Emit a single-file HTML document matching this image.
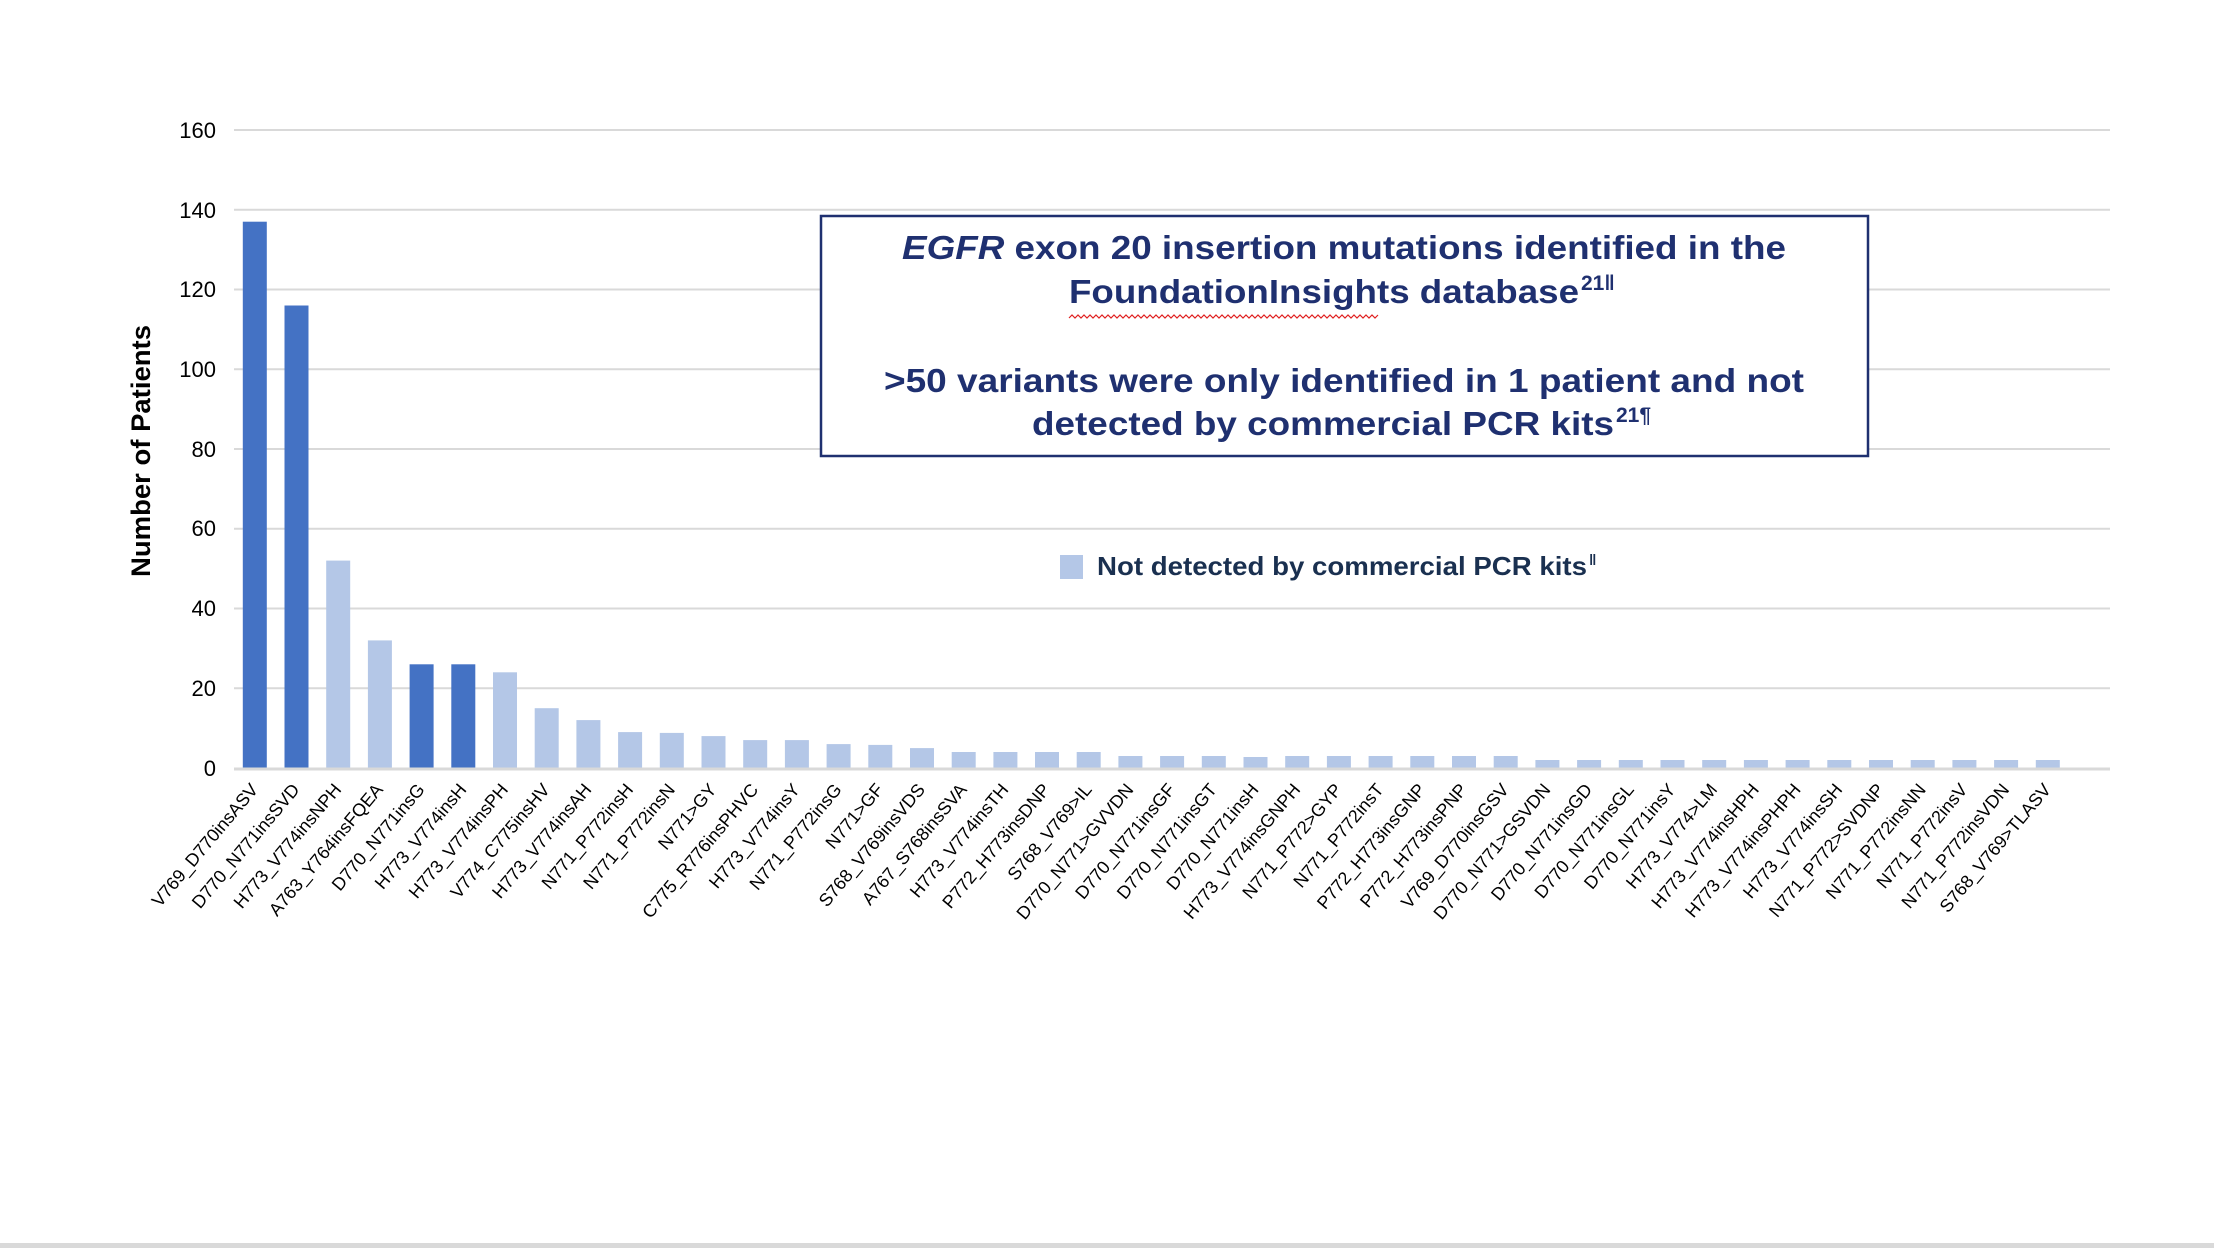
<!DOCTYPE html>
<html><head><meta charset="utf-8"><style>
html,body{margin:0;padding:0;background:#fff;}
svg{display:block;font-family:"Liberation Sans",Arial,sans-serif;}
</style></head><body>
<svg width="2214" height="1248" viewBox="0 0 2214 1248" xmlns="http://www.w3.org/2000/svg">
<rect width="2214" height="1248" fill="#fff"/>
<rect x="0" y="1243" width="2214" height="5" fill="#d9d9d9"/>
<g stroke="#d9d9d9" stroke-width="2">
<line x1="234" x2="2110" y1="130" y2="130"/>
<line x1="234" x2="2110" y1="209.75" y2="209.75"/>
<line x1="234" x2="2110" y1="289.5" y2="289.5"/>
<line x1="234" x2="2110" y1="369.25" y2="369.25"/>
<line x1="234" x2="2110" y1="449" y2="449"/>
<line x1="234" x2="2110" y1="528.75" y2="528.75"/>
<line x1="234" x2="2110" y1="608.5" y2="608.5"/>
<line x1="234" x2="2110" y1="688.25" y2="688.25"/>
</g>
<g font-size="22" text-anchor="end" fill="#000">
<text x="216" y="138">160</text>
<text x="216" y="218">140</text>
<text x="216" y="297">120</text>
<text x="216" y="377">100</text>
<text x="216" y="457">80</text>
<text x="216" y="536">60</text>
<text x="216" y="616">40</text>
<text x="216" y="696">20</text>
<text x="216" y="776">0</text>
</g>
<text transform="translate(150,451) rotate(-90)" text-anchor="middle" font-size="27" font-weight="bold" textLength="252" lengthAdjust="spacingAndGlyphs">Number of Patients</text>
<g fill="#b4c7e7">
<rect x="242.8" y="221.7" width="24" height="546.3" fill="#4472c4"/>
<rect x="284.5" y="305.5" width="24" height="462.5" fill="#4472c4"/>
<rect x="326.2" y="560.6" width="24" height="207.4"/>
<rect x="367.9" y="640.4" width="24" height="127.6"/>
<rect x="409.6" y="664.3" width="24" height="103.7" fill="#4472c4"/>
<rect x="451.3" y="664.3" width="24" height="103.7" fill="#4472c4"/>
<rect x="493.0" y="672.3" width="24" height="95.7"/>
<rect x="534.7" y="708.2" width="24" height="59.8"/>
<rect x="576.4" y="720.1" width="24" height="47.9"/>
<rect x="618.1" y="732.1" width="24" height="35.9"/>
<rect x="659.8" y="732.9" width="24" height="35.1"/>
<rect x="701.5" y="736.1" width="24" height="31.9"/>
<rect x="743.2" y="740.1" width="24" height="27.9"/>
<rect x="784.9" y="740.1" width="24" height="27.9"/>
<rect x="826.6" y="744.1" width="24" height="23.9"/>
<rect x="868.3" y="744.9" width="24" height="23.1"/>
<rect x="910.0" y="748.1" width="24" height="19.9"/>
<rect x="951.7" y="752" width="24" height="16"/>
<rect x="993.4" y="752" width="24" height="16"/>
<rect x="1035.0" y="752" width="24" height="16"/>
<rect x="1076.7" y="752" width="24" height="16"/>
<rect x="1118.4" y="756" width="24" height="12"/>
<rect x="1160.1" y="756" width="24" height="12"/>
<rect x="1201.8" y="756" width="24" height="12"/>
<rect x="1243.5" y="757" width="24" height="11"/>
<rect x="1285.2" y="756" width="24" height="12"/>
<rect x="1326.9" y="756" width="24" height="12"/>
<rect x="1368.6" y="756" width="24" height="12"/>
<rect x="1410.3" y="756" width="24" height="12"/>
<rect x="1452.0" y="756" width="24" height="12"/>
<rect x="1493.7" y="756" width="24" height="12"/>
<rect x="1535.4" y="760" width="24" height="8"/>
<rect x="1577.1" y="760" width="24" height="8"/>
<rect x="1618.8" y="760" width="24" height="8"/>
<rect x="1660.5" y="760" width="24" height="8"/>
<rect x="1702.2" y="760" width="24" height="8"/>
<rect x="1743.9" y="760" width="24" height="8"/>
<rect x="1785.6" y="760" width="24" height="8"/>
<rect x="1827.3" y="760" width="24" height="8"/>
<rect x="1869.0" y="760" width="24" height="8"/>
<rect x="1910.7" y="760" width="24" height="8"/>
<rect x="1952.4" y="760" width="24" height="8"/>
<rect x="1994.1" y="760" width="24" height="8"/>
<rect x="2035.8" y="760" width="24" height="8"/>
</g>
<line x1="234" x2="2110" y1="769" y2="769" stroke="#d9d9d9" stroke-width="3"/>
<g font-size="18" text-anchor="end" fill="#000">
<text transform="translate(259,790) rotate(-50)">V769_D770insASV</text>
<text transform="translate(300.5,790) rotate(-50)">D770_N771insSVD</text>
<text transform="translate(342.2,790) rotate(-50)">H773_V774insNPH</text>
<text transform="translate(383.9,790) rotate(-50)">A763_Y764insFQEA</text>
<text transform="translate(425.6,790) rotate(-50)">D770_N771insG</text>
<text transform="translate(467.3,790) rotate(-50)">H773_V774insH</text>
<text transform="translate(509,790) rotate(-50)">H773_V774insPH</text>
<text transform="translate(550.7,790) rotate(-50)">V774_C775insHV</text>
<text transform="translate(592.4,790) rotate(-50)">H773_V774insAH</text>
<text transform="translate(634.1,790) rotate(-50)">N771_P772insH</text>
<text transform="translate(675.8,790) rotate(-50)">N771_P772insN</text>
<text transform="translate(717.5,790) rotate(-50)">N771&gt;GY</text>
<text transform="translate(759.2,790) rotate(-50)">C775_R776insPHVC</text>
<text transform="translate(800.9,790) rotate(-50)">H773_V774insY</text>
<text transform="translate(842.6,790) rotate(-50)">N771_P772insG</text>
<text transform="translate(884.3,790) rotate(-50)">N771&gt;GF</text>
<text transform="translate(926,790) rotate(-50)">S768_V769insVDS</text>
<text transform="translate(967.7,790) rotate(-50)">A767_S768insSVA</text>
<text transform="translate(1009.4,790) rotate(-50)">H773_V774insTH</text>
<text transform="translate(1051,790) rotate(-50)">P772_H773insDNP</text>
<text transform="translate(1092.7,790) rotate(-50)">S768_V769&gt;IL</text>
<text transform="translate(1134.4,790) rotate(-50)">D770_N771&gt;GVVDN</text>
<text transform="translate(1176.1,790) rotate(-50)">D770_N771insGF</text>
<text transform="translate(1217.8,790) rotate(-50)">D770_N771insGT</text>
<text transform="translate(1259.5,790) rotate(-50)">D770_N771insH</text>
<text transform="translate(1301.2,790) rotate(-50)">H773_V774insGNPH</text>
<text transform="translate(1342.9,790) rotate(-50)">N771_P772&gt;GYP</text>
<text transform="translate(1384.6,790) rotate(-50)">N771_P772insT</text>
<text transform="translate(1426.3,790) rotate(-50)">P772_H773insGNP</text>
<text transform="translate(1468,790) rotate(-50)">P772_H773insPNP</text>
<text transform="translate(1509.7,790) rotate(-50)">V769_D770insGSV</text>
<text transform="translate(1551.4,790) rotate(-50)">D770_N771&gt;GSVDN</text>
<text transform="translate(1593.1,790) rotate(-50)">D770_N771insGD</text>
<text transform="translate(1634.8,790) rotate(-50)">D770_N771insGL</text>
<text transform="translate(1676.5,790) rotate(-50)">D770_N771insY</text>
<text transform="translate(1718.2,790) rotate(-50)">H773_V774&gt;LM</text>
<text transform="translate(1759.9,790) rotate(-50)">H773_V774insHPH</text>
<text transform="translate(1801.6,790) rotate(-50)">H773_V774insPHPH</text>
<text transform="translate(1843.3,790) rotate(-50)">H773_V774insSH</text>
<text transform="translate(1885,790) rotate(-50)">N771_P772&gt;SVDNP</text>
<text transform="translate(1926.7,790) rotate(-50)">N771_P772insNN</text>
<text transform="translate(1968.4,790) rotate(-50)">N771_P772insV</text>
<text transform="translate(2010.1,790) rotate(-50)">N771_P772insVDN</text>
<text transform="translate(2051.8,790) rotate(-50)">S768_V769&gt;TLASV</text>
</g>
<rect x="821" y="216" width="1047" height="240" fill="#fff" stroke="#1f3070" stroke-width="2.5"/>
<g font-size="33" font-weight="bold" fill="#1f3070">
<text x="902" y="259" textLength="884" lengthAdjust="spacingAndGlyphs"><tspan font-style="italic">EGFR</tspan> exon 20 insertion mutations identified in the</text>
<text x="1069" y="303" textLength="510" lengthAdjust="spacingAndGlyphs">FoundationInsights database</text>
<text x="1581" y="290" font-size="21">21‖</text>
<text x="884" y="392" textLength="920" lengthAdjust="spacingAndGlyphs">&gt;50 variants were only identified in 1 patient and not</text>
<text x="1032" y="435" textLength="582" lengthAdjust="spacingAndGlyphs">detected by commercial PCR kits</text>
<text x="1616" y="422" font-size="21">21¶</text>
</g>
<path d="M1069 318 l3 -3 l3 3 l3 -3 l3 3 l3 -3 l3 3 l3 -3 l3 3 l3 -3 l3 3 l3 -3 l3 3 l3 -3 l3 3 l3 -3 l3 3 l3 -3 l3 3 l3 -3 l3 3 l3 -3 l3 3 l3 -3 l3 3 l3 -3 l3 3 l3 -3 l3 3 l3 -3 l3 3 l3 -3 l3 3 l3 -3 l3 3 l3 -3 l3 3 l3 -3 l3 3 l3 -3 l3 3 l3 -3 l3 3 l3 -3 l3 3 l3 -3 l3 3 l3 -3 l3 3 l3 -3 l3 3 l3 -3 l3 3 l3 -3 l3 3 l3 -3 l3 3 l3 -3 l3 3 l3 -3 l3 3 l3 -3 l3 3 l3 -3 l3 3 l3 -3 l3 3 l3 -3 l3 3 l3 -3 l3 3 l3 -3 l3 3 l3 -3 l3 3 l3 -3 l3 3 l3 -3 l3 3 l3 -3 l3 3 l3 -3 l3 3 l3 -3 l3 3 l3 -3 l3 3 l3 -3 l3 3 l3 -3 l3 3 l3 -3 l3 3 l3 -3 l3 3 l3 -3 l3 3 l3 -3 l3 3 l3 -3 l3 3 l3 -3 l3 3 l3 -3" fill="none" stroke="#e02020" stroke-width="1.2"/>
<rect x="1060" y="555" width="23" height="24" fill="#b4c7e7"/>
<text x="1097" y="575" font-size="26" font-weight="bold" fill="#1a3050" textLength="490" lengthAdjust="spacingAndGlyphs">Not detected by commercial PCR kits</text>
<text x="1589" y="565" font-size="15" font-weight="bold" fill="#1a3050">‖</text>
</svg>
</body></html>
